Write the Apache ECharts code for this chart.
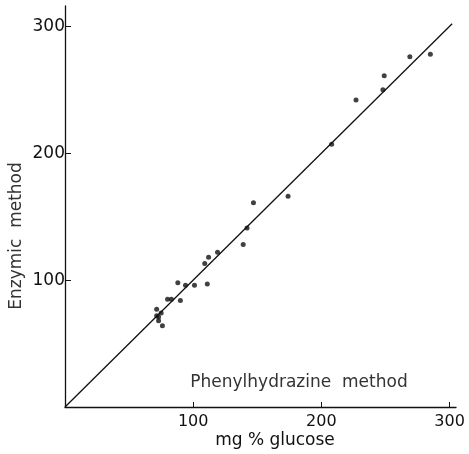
<!DOCTYPE html>
<html>
<head>
<meta charset="utf-8">
<script src="https://cdn.jsdelivr.net/npm/echarts@6/dist/echarts.min.js"></script>
<style>
  html, body { margin: 0; padding: 0; background: #fff; }
  #chart { width: 469px; height: 454px; }
</style>
</head>
<body>
<div id="chart"></div>
<script>
// phenylhydrazine method (x) vs enzymic method (y), mg % glucose
var phenylVals = [71.5, 73, 71.5, 75, 73, 76, 80, 83, 90, 88, 94, 101, 111, 109, 112, 119, 139, 142, 147, 174, 208, 227, 248, 249, 269, 285];
var enzymVals  = [77,   71, 72,   74, 68, 64, 85, 85, 84, 98, 96, 96,  97,  113, 118, 122, 128, 141, 161, 166, 207, 242, 250, 261, 276, 278];
var lineX = [0, 302];
var lineY = [0, 302];
var xTicks = [100, 200, 300];
var yTicks = [100, 200, 300];

var points = phenylVals.map(function (v, i) { return [v, enzymVals[i]]; });
var font = 'DejaVu Sans, Liberation Sans, sans-serif';

var chart = echarts.init(document.getElementById('chart'));
chart.setOption({
  animation: false,
  grid: { left: 65, right: 13, top: 6, bottom: 47 },
  xAxis: {
    type: 'value', min: 0, max: 305,
    splitLine: { show: false },
    axisLine: { lineStyle: { color: '#111', width: 1.3 } },
    axisTick: { inside: true, length: 5, customValues: xTicks, lineStyle: { color: '#111' } },
    axisLabel: { customValues: xTicks, margin: 7, fontSize: 16, color: '#111', fontFamily: font }
  },
  yAxis: {
    type: 'value', min: 0, max: 316,
    splitLine: { show: false },
    axisLine: { show: true, lineStyle: { color: '#111', width: 1.3 } },
    axisTick: { show: true, inside: true, length: 6, customValues: yTicks, lineStyle: { color: '#111' } },
    axisLabel: { customValues: yTicks, margin: 0, fontSize: 17, color: '#111', fontFamily: font }
  },
  graphic: [
    { type: 'text', x: 299, y: 383,
      style: { text: 'Phenylhydrazine  method', font: '17px ' + font, fill: '#333', align: 'center', verticalAlign: 'middle' } },
    { type: 'text', x: 275, y: 441,
      style: { text: 'mg % glucose', font: '17px ' + font, fill: '#111', align: 'center', verticalAlign: 'middle' } },
    { type: 'text', x: 17, y: 236, rotation: Math.PI / 2,
      style: { text: 'Enzymic  method', font: '17px ' + font, fill: '#333', align: 'center', verticalAlign: 'middle' } }
  ],
  series: [
    {
      type: 'line',
      data: lineX.map(function (v, i) { return [v, lineY[i]]; }),
      symbol: 'none',
      lineStyle: { color: '#111', width: 1.3 }
    },
    {
      type: 'scatter',
      data: points,
      symbolSize: 5,
      itemStyle: { color: '#111' }
    }
  ]
});
</script>
</body>
</html>
